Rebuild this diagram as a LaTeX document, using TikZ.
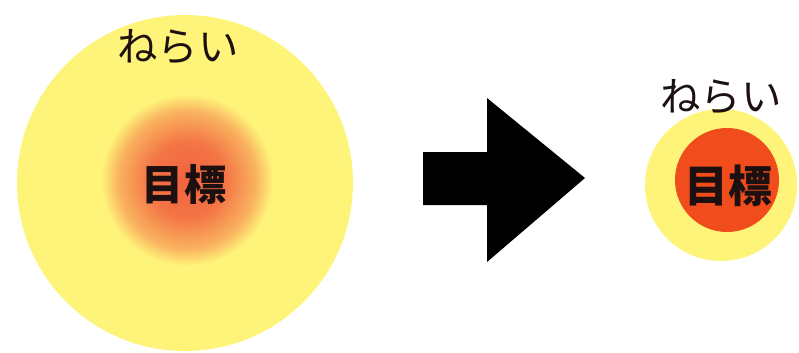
\documentclass[tikz,border=0pt]{standalone}
\usepackage{fontspec}
\setmainfont{Noto Sans CJK JP}
\usepackage{xcolor}
\usepackage{tikz}
\usetikzlibrary{positioning}

\definecolor{ringyellow}{HTML}{FFF47A}
\definecolor{goalcore}{HTML}{F2633E}
\definecolor{goalred}{HTML}{F04C1C}
\definecolor{inkdark}{HTML}{1C1010}
\pgfdeclareradialshading{goalglow}{\pgfpoint{0bp}{0bp}}{%
  color(0bp)=(goalcore); color(11bp)=(goalcore!88!ringyellow);
  color(20bp)=(goalcore!45!ringyellow); color(25bp)=(ringyellow);
  color(50bp)=(ringyellow)}

\begin{document}
\begin{tikzpicture}[
  x=0.2mm, y=-0.2mm,
  aim/.style={font=\fontsize{23}{23}\selectfont, text=inkdark, inner sep=0pt},
  goal/.style={font=\fontsize{24}{24}\selectfont\bfseries, text=inkdark, inner sep=0pt}
]
  \useasboundingbox (0,0) rectangle (799,352);
  % before
  \fill[ringyellow] (185,183) circle (168);
  \shade[shading=goalglow] (187,180) circle (86);
  \node[aim] (aimbig) at (178,47) {ねらい};
  \node[goal] (goalbig) at (184,184) {目標};
  % arrow
  \fill[black] (423,152) -- (487,152) -- (487,98) -- (585,178)
    -- (487,262) -- (487,205) -- (423,205) -- cycle;
  % after
  \fill[ringyellow] (721,185) circle (76);
  \fill[goalred] (727,180) circle (52);
  \node[aim] (aimsmall) at (721,97) {ねらい};
  \node[goal, font=\fontsize{25}{25}\selectfont\bfseries] (goalsmall) at (728,186) {目標};
\end{tikzpicture}
\end{document}
